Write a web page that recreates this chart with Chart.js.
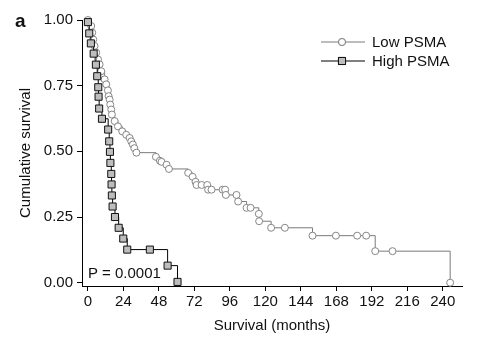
<!DOCTYPE html>
<html>
<head>
<meta charset="utf-8">
<script src="https://cdn.jsdelivr.net/npm/chart.js@4/dist/chart.umd.min.js"></script>
<style>
  html, body { margin: 0; padding: 0; background: #fff; }
  #wrap { width: 487px; height: 350px; }
</style>
</head>
<body>
<div id="wrap"><canvas id="km" width="487" height="350"></canvas></div>
<script>
// survival times (months) and cumulative survival
const lowTimes = [0, 2.2, 2.9, 3.6, 4.5, 5.6, 6.8, 7.9, 9.0, 11.3, 12.4, 13.5, 14.0, 14.7, 15.1, 15.8, 16.2,
  18.1, 20.3, 23.2, 25.9, 28.2, 29.3, 30.4, 31.4, 32.8, 46.0, 48.7, 49.8, 53.2, 54.8, 67.8, 70.8, 72.8,
  73.5, 76.9, 80.7, 81.3, 83.6, 91.1, 92.8, 93.3, 100.5, 101.6, 107.3, 110.0, 115.6, 115.8, 123.9, 133.2,
  151.9, 167.7, 182.1, 188.2, 194.3, 206.0, 245.0];
const lowSurv = [1, 0.977, 0.952, 0.926, 0.901, 0.876, 0.850, 0.831, 0.805, 0.774, 0.755, 0.732, 0.710, 0.697,
  0.678, 0.659, 0.640, 0.615, 0.595, 0.576, 0.563, 0.551, 0.538, 0.526, 0.512, 0.495, 0.479, 0.464, 0.460,
  0.449, 0.433, 0.418, 0.403, 0.384, 0.372, 0.372, 0.372, 0.354, 0.354, 0.354, 0.354, 0.334, 0.334, 0.309,
  0.285, 0.285, 0.262, 0.234, 0.209, 0.209, 0.179, 0.179, 0.179, 0.179, 0.120, 0.120, 0.0];

const highTimes = [0, 0.9, 2.0, 3.9, 5.4, 6.3, 7.0, 7.2, 7.6, 9.5, 13.7, 14.4, 14.9, 15.2, 15.8, 16.0, 16.2,
  16.7, 18.3, 20.8, 23.9, 26.6, 41.9, 53.9, 60.6];
const highSurv = [0.992, 0.949, 0.911, 0.872, 0.830, 0.786, 0.744, 0.708, 0.663, 0.624, 0.583, 0.538, 0.498,
  0.456, 0.414, 0.374, 0.332, 0.290, 0.250, 0.209, 0.168, 0.126, 0.126, 0.065, 0.003];

const xTickValues = [0, 24, 48, 72, 96, 120, 144, 168, 192, 216, 240];
const yTickValues = [0, 0.25, 0.5, 0.75, 1];

const FONT = 'Liberation Sans, Arial, Helvetica, sans-serif';
const toPoints = (xs, ys) => xs.map((x, i) => ({ x, y: ys[i] }));

// legend, panel letter and p-value drawn on top
const extras = {
  id: 'extras',
  afterDraw(chart) {
    const ctx = chart.ctx;
    ctx.save();
    ctx.fillStyle = '#111';
    ctx.font = 'bold 19px ' + FONT;
    ctx.textBaseline = 'alphabetic';
    ctx.fillText('a', 15, 27);

    ctx.font = '15px ' + FONT;
    ctx.textBaseline = 'middle';
    const xs = chart.scales.x, ys = chart.scales.y;
    ctx.fillText('P = 0.0001', xs.getPixelForValue(0), ys.getPixelForValue(0.035));

    const rows = [
      { ds: chart.data.datasets[0], y: 42 },
      { ds: chart.data.datasets[1], y: 61 }
    ];
    rows.forEach(r => {
      ctx.strokeStyle = r.ds.borderColor;
      ctx.lineWidth = 1;
      ctx.beginPath();
      ctx.moveTo(321, r.y);
      ctx.lineTo(365, r.y);
      ctx.stroke();
      Chart.helpers.drawPoint(ctx, {
        pointStyle: r.ds.pointStyle,
        radius: r.ds.pointRadius,
        borderWidth: 1,
        rotation: 0
      }, 342, r.y);
      ctx.fillStyle = r.ds.pointBackgroundColor;
      ctx.strokeStyle = r.ds.pointBorderColor;
      ctx.fill();
      ctx.stroke();
      ctx.fillStyle = '#111';
      ctx.fillText(r.ds.label, 372, r.y + 1);
    });
    ctx.restore();
  }
};

new Chart(document.getElementById('km'), {
  type: 'line',
  data: {
    datasets: [
      {
        label: 'Low PSMA',
        data: toPoints(lowTimes, lowSurv),
        stepped: true,
        borderColor: '#7a7a7a',
        borderWidth: 1,
        pointStyle: 'circle',
        pointRadius: 3.5,
        pointBackgroundColor: '#ffffff',
        pointBorderColor: '#858585',
        pointBorderWidth: 1,
        clip: false,
        order: 1
      },
      {
        label: 'High PSMA',
        data: toPoints(highTimes, highSurv),
        stepped: true,
        borderColor: '#000000',
        borderWidth: 1,
        pointStyle: 'rect',
        pointRadius: 5,
        pointBackgroundColor: '#bdbdbd',
        pointBorderColor: '#111111',
        pointBorderWidth: 1,
        clip: false,
        order: 0
      }
    ]
  },
  options: {
    responsive: false,
    animation: false,
    layout: { padding: { top: 20, right: 25, bottom: 0, left: 0 } },
    plugins: { legend: { display: false }, tooltip: { enabled: false } },
    scales: {
      x: {
        type: 'linear',
        min: -4,
        max: 253,
        afterBuildTicks: s => { s.ticks = xTickValues.map(v => ({ value: v })); },
        afterFit: s => { s.height = 64; },
        grid: { drawOnChartArea: false, drawTicks: true, tickLength: 5, color: '#000' },
        border: { display: true, color: '#000', width: 1 },
        ticks: { color: '#111', font: { family: FONT, size: 15 }, padding: 2, maxRotation: 0 },
        title: { display: true, text: 'Survival (months)', color: '#111', font: { family: FONT, size: 15 }, padding: { bottom: 15 } }
      },
      y: {
        type: 'linear',
        min: -0.0126,
        max: 1,
        afterBuildTicks: s => { s.ticks = yTickValues.map(v => ({ value: v })); },
        afterFit: s => { s.width = 82; },
        grid: { drawOnChartArea: false, drawTicks: true, tickLength: 5, color: '#000' },
        border: { display: true, color: '#000', width: 1 },
        ticks: { color: '#111', font: { family: FONT, size: 15 }, padding: 4, callback: v => v.toFixed(2) },
        title: { display: true, text: 'Cumulative survival', color: '#111', font: { family: FONT, size: 15 }, padding: { top: 17 } }
      }
    }
  },
  plugins: [extras]
});
</script>
</body>
</html>
